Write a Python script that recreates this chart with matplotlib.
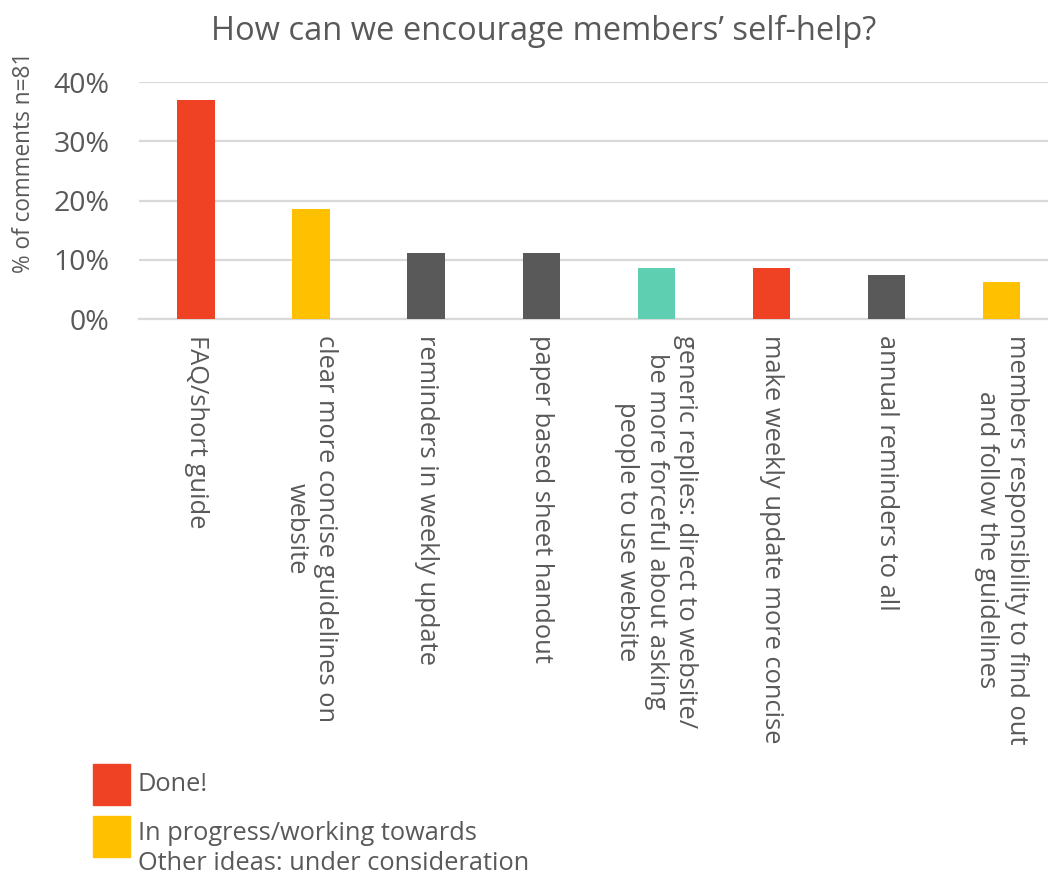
import matplotlib.pyplot as plt
from matplotlib.patches import Rectangle
from matplotlib.ticker import PercentFormatter

plt.rcParams['font.family'] = ['Open Sans', 'DejaVu Sans']

# comment counts out of n=81
categories = [
    "FAQ/short guide",
    "clear more concise guidelines on\nwebsite",
    "reminders in weekly update",
    "paper based sheet handout",
    "generic replies: direct to website/\nbe more forceful about asking\npeople to use website",
    "make weekly update more concise",
    "annual reminders to all",
    "members responsibility to find out\nand follow the guidelines",
]
counts = [30, 15, 9, 9, 7, 7, 6, 5]
n_total = 81
status = ["done", "progress", "other", "other", "generic", "done", "other", "progress"]

shares = [c / n_total for c in counts]
palette = {"done": "#EF4123", "progress": "#FFC000", "other": "#595959", "generic": "#5ECFB1"}
text_col = "#595959"

fig = plt.figure(figsize=(10.48, 8.8), dpi=100)
ax = fig.add_axes([138.5 / 1048, 1 - 319 / 880, (1048 - 138.5) / 1048, (319 - 82) / 880])

x = range(len(categories))
ax.bar(x, shares, width=0.325, color=[palette[s] for s in status], zorder=3)

ax.set_ylim(0, 0.4)
ax.set_xlim(-0.5, 7.404)
ax.set_yticks([0, 0.1, 0.2, 0.3, 0.4])
ax.yaxis.set_major_formatter(PercentFormatter(1.0, decimals=0))
ax.tick_params(axis='y', length=0, labelsize=20.5, labelcolor=text_col, pad=21)
ax.tick_params(axis='x', length=0, labelbottom=False)
ax.grid(axis='y', color='#D9D9D9', linewidth=1.6, zorder=0)
ax.set_axisbelow(True)
for side in ['top', 'right', 'left']:
    ax.spines[side].set_visible(False)
ax.spines['bottom'].set_color('#D9D9D9')
ax.spines['bottom'].set_linewidth(1.6)

# rotated category labels under each bar
for i, lab in enumerate(categories):
    ax.annotate(lab, xy=(i, 0), xycoords='data', xytext=(0, -16), textcoords='offset pixels',
                rotation=270, ha='center', va='top', multialignment='center',
                fontsize=18.4, color=text_col, linespacing=1.24)

fig.text(544 / 1048, 1 - 31 / 880, "How can we encourage members\u2019 self-help?",
         ha='center', va='center', fontsize=23.5, color=text_col)
fig.text(24 / 1048, 1 - 162 / 880, "% of comments n=81", rotation=90,
         ha='center', va='center', fontsize=16.3, color=text_col)

# legend drawn by hand
fig.patches.append(Rectangle((93 / 1048, 1 - 805 / 880), 37 / 1048, 41 / 880,
                             transform=fig.transFigure, color=palette["done"]))
fig.patches.append(Rectangle((93 / 1048, 1 - 857 / 880), 37 / 1048, 41 / 880,
                             transform=fig.transFigure, color=palette["progress"]))
fig.text(138 / 1048, 1 - 784 / 880, "Done!", ha='left', va='center', fontsize=18.3, color=text_col)
fig.text(138 / 1048, 1 - 833 / 880, "In progress/working towards", ha='left', va='center',
         fontsize=18.3, color=text_col)
fig.text(138 / 1048, 1 - 863 / 880, "Other ideas: under consideration", ha='left', va='center',
         fontsize=18.3, color=text_col)

fig.savefig("out.png", dpi=100)
